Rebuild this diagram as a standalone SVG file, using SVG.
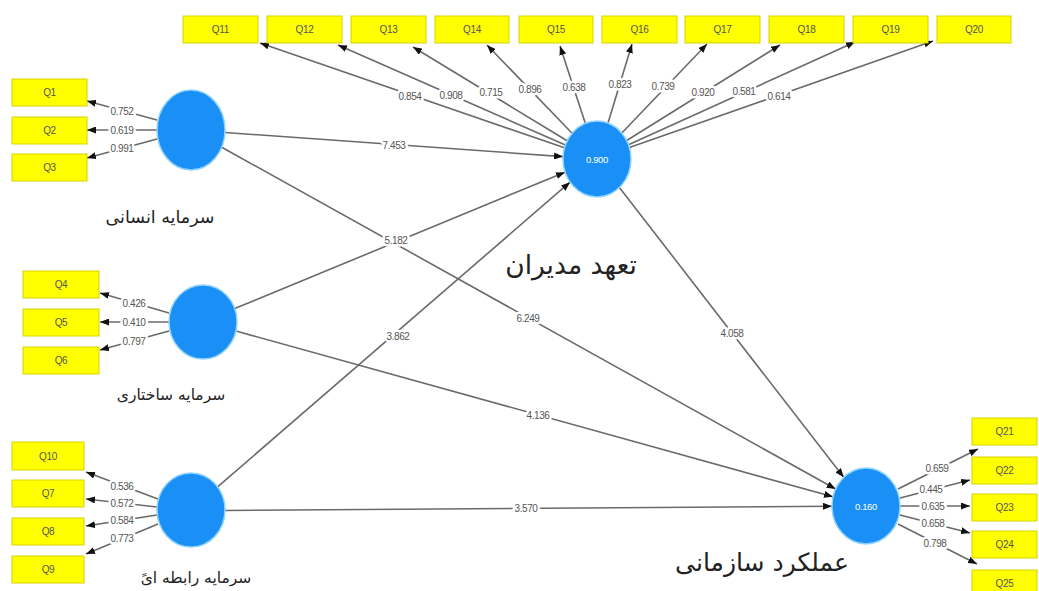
<svg xmlns="http://www.w3.org/2000/svg" width="1039" height="591" viewBox="0 0 1039 591">
<defs>
<marker id="ah" markerUnits="userSpaceOnUse" markerWidth="9" markerHeight="7" refX="9" refY="3.5" orient="auto">
<path d="M0,0 L9,3.5 L0,7 z" fill="#111"/>
</marker>
<style>
.box{fill:#ffff00;stroke:#d4d400;stroke-width:1}
.bt{font-family:"Liberation Sans",Arial,sans-serif;font-size:10px;fill:#555;text-anchor:middle;dominant-baseline:central;letter-spacing:-0.3px}
.lv{fill:#1a8ff5;stroke:#8fd3ff;stroke-width:1.5}
.lvt{font-family:"Liberation Sans",Arial,sans-serif;font-size:9.5px;fill:#fff;text-anchor:middle;dominant-baseline:central;letter-spacing:-0.4px}
.c line{stroke:#6a6a6a;stroke-width:1.6;marker-end:url(#ah)}
.l{font-family:"Liberation Sans",Arial,sans-serif;font-size:10px;fill:#555;text-anchor:middle;dominant-baseline:central;letter-spacing:-0.4px;stroke:#fff;stroke-width:5px;paint-order:stroke;stroke-linejoin:round}
.fa{font-family:"DejaVu Sans","Noto Sans",sans-serif;fill:#222;text-anchor:middle}
</style>
</defs>
<rect width="1039" height="591" fill="#fff"/>

<g id="connectors" class="c">
<line x1="225" y1="132.5" x2="563" y2="156.6"/>
<line x1="234.7" y1="308.6" x2="565" y2="172.2"/>
<line x1="217.6" y1="486.9" x2="570" y2="182.2"/>
<line x1="221.7" y1="147.2" x2="835.6" y2="489"/>
<line x1="236" y1="331" x2="833" y2="496.8"/>
<line x1="225" y1="510.5" x2="832" y2="506.2"/>
<line x1="619.4" y1="187.5" x2="843.7" y2="477.3"/>
<line x1="157" y1="120" x2="87" y2="101"/>
<line x1="157" y1="130" x2="87" y2="130"/>
<line x1="157" y1="139" x2="87" y2="158"/>
<line x1="169" y1="313" x2="100" y2="293"/>
<line x1="169" y1="322" x2="100" y2="322"/>
<line x1="169" y1="331" x2="100" y2="350"/>
<line x1="158" y1="499" x2="86" y2="472"/>
<line x1="157" y1="507" x2="86" y2="499"/>
<line x1="157" y1="515" x2="86" y2="526"/>
<line x1="158" y1="524" x2="86" y2="554"/>
<line x1="564.5" y1="147.8" x2="260" y2="43"/>
<line x1="565.4" y1="145.1" x2="338" y2="45"/>
<line x1="567.1" y1="140.8" x2="413" y2="47"/>
<line x1="572.1" y1="133.2" x2="487" y2="45"/>
<line x1="585.3" y1="123.3" x2="560" y2="46"/>
<line x1="608" y1="123" x2="632" y2="44"/>
<line x1="621.8" y1="133" x2="707" y2="44"/>
<line x1="626.7" y1="140.5" x2="780" y2="45"/>
<line x1="628.5" y1="144.7" x2="855" y2="42"/>
<line x1="629.4" y1="147.6" x2="933" y2="41"/>
<line x1="898" y1="489" x2="978" y2="449"/>
<line x1="900" y1="498" x2="970" y2="480"/>
<line x1="900" y1="506" x2="970" y2="506"/>
<line x1="900" y1="515" x2="970" y2="533"/>
<line x1="898" y1="524" x2="977" y2="564"/>
</g>

<g id="connector-labels">
<text class="l" x="394" y="145">7.453</text>
<text class="l" x="396" y="240">5.182</text>
<text class="l" x="398" y="336">3.862</text>
<text class="l" x="528" y="318">6.249</text>
<text class="l" x="538" y="415">4.136</text>
<text class="l" x="526" y="508">3.570</text>
<text class="l" x="732" y="333">4.058</text>
<text class="l" x="122" y="111">0.752</text>
<text class="l" x="122" y="130">0.619</text>
<text class="l" x="122" y="148">0.991</text>
<text class="l" x="134" y="303">0.426</text>
<text class="l" x="134" y="322">0.410</text>
<text class="l" x="134" y="341">0.797</text>
<text class="l" x="122" y="486">0.536</text>
<text class="l" x="122" y="503">0.572</text>
<text class="l" x="122" y="520">0.584</text>
<text class="l" x="122" y="538">0.773</text>
<text class="l" x="410" y="96">0.854</text>
<text class="l" x="451" y="95">0.908</text>
<text class="l" x="491" y="92">0.715</text>
<text class="l" x="530" y="89">0.896</text>
<text class="l" x="574" y="87">0.638</text>
<text class="l" x="620" y="84">0.823</text>
<text class="l" x="663" y="86">0.739</text>
<text class="l" x="703" y="92">0.920</text>
<text class="l" x="744" y="91">0.581</text>
<text class="l" x="779" y="96">0.614</text>
<text class="l" x="937" y="468">0.659</text>
<text class="l" x="931" y="489">0.445</text>
<text class="l" x="933" y="506">0.635</text>
<text class="l" x="933" y="523">0.658</text>
<text class="l" x="935" y="543">0.798</text>
</g>

<g id="Q1"><rect class="box" x="12" y="79" width="75" height="27"/><text class="bt" x="49.5" y="92.5">Q1</text></g>
<g id="Q2"><rect class="box" x="12" y="117" width="75" height="27"/><text class="bt" x="49.5" y="130.5">Q2</text></g>
<g id="Q3"><rect class="box" x="12" y="154" width="75" height="27"/><text class="bt" x="49.5" y="167.5">Q3</text></g>
<g id="Q4"><rect class="box" x="23" y="271" width="76" height="27"/><text class="bt" x="61" y="284.5">Q4</text></g>
<g id="Q5"><rect class="box" x="23" y="309" width="76" height="27"/><text class="bt" x="61" y="322.5">Q5</text></g>
<g id="Q6"><rect class="box" x="23" y="347" width="76" height="27"/><text class="bt" x="61" y="360.5">Q6</text></g>
<g id="Q10"><rect class="box" x="12" y="442" width="72" height="28"/><text class="bt" x="48" y="456">Q10</text></g>
<g id="Q7"><rect class="box" x="12" y="480" width="72" height="27"/><text class="bt" x="48" y="493.5">Q7</text></g>
<g id="Q8"><rect class="box" x="12" y="518" width="72" height="27"/><text class="bt" x="48" y="531.5">Q8</text></g>
<g id="Q9"><rect class="box" x="12" y="556" width="72" height="27"/><text class="bt" x="48" y="569.5">Q9</text></g>

<g id="Q11"><rect class="box" x="183" y="16" width="75" height="27"/><text class="bt" x="220.5" y="29.5">Q11</text></g>
<g id="Q12"><rect class="box" x="267" y="16" width="75" height="27"/><text class="bt" x="304.5" y="29.5">Q12</text></g>
<g id="Q13"><rect class="box" x="351" y="16" width="75" height="27"/><text class="bt" x="388.5" y="29.5">Q13</text></g>
<g id="Q14"><rect class="box" x="435" y="16" width="74" height="27"/><text class="bt" x="472" y="29.5">Q14</text></g>
<g id="Q15"><rect class="box" x="519" y="16" width="74" height="27"/><text class="bt" x="556" y="29.5">Q15</text></g>
<g id="Q16"><rect class="box" x="602" y="16" width="75" height="27"/><text class="bt" x="639.5" y="29.5">Q16</text></g>
<g id="Q17"><rect class="box" x="685" y="16" width="75" height="27"/><text class="bt" x="722.5" y="29.5">Q17</text></g>
<g id="Q18"><rect class="box" x="769" y="16" width="75" height="27"/><text class="bt" x="806.5" y="29.5">Q18</text></g>
<g id="Q19"><rect class="box" x="853" y="16" width="75" height="27"/><text class="bt" x="890.5" y="29.5">Q19</text></g>
<g id="Q20"><rect class="box" x="937" y="16" width="74" height="27"/><text class="bt" x="974" y="29.5">Q20</text></g>

<g id="Q21"><rect class="box" x="972" y="418" width="65" height="27"/><text class="bt" x="1004.5" y="431.5">Q21</text></g>
<g id="Q22"><rect class="box" x="972" y="457" width="65" height="27"/><text class="bt" x="1004.5" y="470.5">Q22</text></g>
<g id="Q23"><rect class="box" x="972" y="494" width="65" height="27"/><text class="bt" x="1004.5" y="507.5">Q23</text></g>
<g id="Q24"><rect class="box" x="972" y="531" width="65" height="27"/><text class="bt" x="1004.5" y="544.5">Q24</text></g>
<g id="Q25"><rect class="box" x="972" y="570" width="65" height="27"/><text class="bt" x="1004.5" y="583.5">Q25</text></g>

<g id="human-capital"><ellipse class="lv" cx="191" cy="130" rx="34" ry="40"/><text class="fa" x="160" y="223" font-size="17.5">سرمایه انسانی</text></g>
<g id="structural-capital"><ellipse class="lv" cx="203" cy="322" rx="34" ry="37"/><text class="fa" x="171" y="400" font-size="15.5">سرمایه ساختاری</text></g>
<g id="relational-capital"><ellipse class="lv" cx="191" cy="510" rx="34" ry="37"/><text class="fa" x="196" y="583" font-size="15.5">سرمایه رابطه ایً</text></g>
<g id="management-commitment"><ellipse class="lv" cx="597" cy="159" rx="34" ry="38"/><text class="lvt" x="597" y="159">0.900</text><text class="fa" x="571" y="274" font-size="26.5">تعهد مدیران</text></g>
<g id="organizational-performance"><ellipse class="lv" cx="866" cy="506" rx="34" ry="38"/><text class="lvt" x="866" y="506">0.160</text><text class="fa" x="762" y="571" font-size="25">عملکرد سازمانی</text></g>
</svg>
